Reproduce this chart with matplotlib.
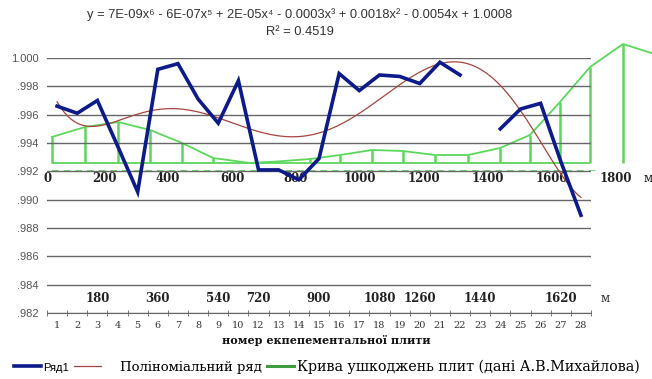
import numpy as np
import matplotlib
matplotlib.use("Agg")
import matplotlib.pyplot as plt
import matplotlib.transforms as mtransforms
from matplotlib.lines import Line2D
from matplotlib.ticker import FixedLocator, FuncFormatter

# --- data ------------------------------------------------------------------
# plate numbers as printed under the axis (the label "11" is absent in the original)
plate_labels = ["1", "2", "3", "4", "5", "6", "7", "8", "9", "10", "12", "13", "14",
                "15", "16", "17", "18", "19", "20", "21", "22", "23", "24", "25",
                "26", "27", "28"]
row1 = [0.9966, 0.9961, 0.9970, 0.9938, 0.99055, 0.9992, 0.9996, 0.9971, 0.9954,
        0.9984, 0.9921, 0.9921, 0.9914, 0.9929, 0.9989, 0.9977, 0.9988, 0.9987,
        0.9982, 0.9997, 0.9988, np.nan, 0.9950, 0.9964, 0.9968, 0.9927, 0.9889]

# distance labels of the lower row (metres) and the plate slot they stand over
lower_m_labels = ["180", "360", "540", "720", "900", "1080", "1260", "1440", "1620"]
lower_m_slots = [2, 5, 8, 10, 13, 16, 18, 21, 25]

# damage curve (A.V. Mykhailov), pasted chart: distance in m, relative damage
damage_m = [37, 141, 244, 344, 444, 541, 656, 741, 844, 938, 1038, 1134, 1234,
            1338, 1438, 1531, 1625, 1719, 1822, 1910]
damage_val = [3.4, 4.4, 4.9, 4.1, 2.8, 1.3, 0.8, 0.95, 1.2, 1.6, 2.1, 2.0, 1.6,
              1.6, 2.3, 3.6, 6.9, 10.4, 12.7, 11.8]
upper_m_ticks = [0, 200, 400, 600, 800, 1000, 1200, 1400, 1600, 1800]

equation = "y = 7E-09x⁶ - 6E-07x⁵ + 2E-05x⁴ - 0.0003x³ + 0.0018x² - 0.0054x + 1.0008"
r2_text = "R² = 0.4519"

BLUE = "#0c1a8a"
RED = "#a6453d"
GREEN = "#5bd85b"
GREEN_DARK = "#3d9d3d"
GRID = "#666666"
SERIF = "DejaVu Serif"
SANS = ["Liberation Sans", "DejaVu Sans"]

W, H = 652, 379
fig = plt.figure(figsize=(W / 100, H / 100), dpi=100)
fig.patch.set_facecolor("white")


def fx(px):
    return px / W


def fy(py):
    return 1 - py / H


# --- pasted damage-curve chart (drawn underneath) ---------------------------
ov = fig.add_axes([fx(40), fy(171), fx(613), 131 / H], zorder=0)
ov.set_xlim(0, 613 / 0.32)
ov.set_ylim(0, 13.1)
ov.patch.set_alpha(0)
for s in ov.spines.values():
    s.set_visible(False)
ov.set_yticks([])

base = 0.8
ov.plot(damage_m, damage_val, color=GREEN, lw=1.3, clip_on=False)
ov.vlines(damage_m[:-1], base, damage_val[:-1], color=GREEN, lw=1.8)
ov.hlines(base, damage_m[0], 1720, color=GREEN, lw=1.3)
ov.hlines(0.05, damage_m[0], 1750, color=GREEN, lw=1.2, linestyles=(0, (4, 3)))

ov.set_xticks(upper_m_ticks + [1900])
ov.set_xticklabels([str(t) for t in upper_m_ticks] + ["м"])
ov.tick_params(axis="x", length=0, pad=0.5, labelsize=8.5)
for lab in ov.get_xticklabels():
    lab.set_family(SERIF)
    lab.set_fontweight("bold")
    lab.set_color("#222222")
ov.get_xticklabels()[-1].set_fontweight("normal")
# the "0" of the pasted chart sits a little right of its tick
zero_lab = ov.get_xticklabels()[0]
zero_lab.set_transform(zero_lab.get_transform()
                       + mtransforms.ScaledTranslation(8 / 100, 0, fig.dpi_scale_trans))

# --- main chart --------------------------------------------------------------
ax = fig.add_axes([fx(47), fy(313), fx(544), 255 / H], zorder=1)
ax.patch.set_alpha(0)
pos = np.arange(len(row1))
ax.set_xlim(-0.5, len(row1) - 0.5)
ax.set_ylim(0.982, 1.000)

ax.yaxis.set_major_locator(FixedLocator(np.arange(0.982, 1.0001, 0.002)))
ax.yaxis.set_major_formatter(
    FuncFormatter(lambda v, _: f"{v:.3f}" if v >= 0.9995 else f"{v:.3f}"[1:]))
ax.grid(axis="y", color=GRID, lw=1.0)
ax.set_axisbelow(True)
ax.tick_params(axis="y", length=0, pad=6, labelsize=8, labelcolor="#555555")
for lab in ax.get_yticklabels():
    lab.set_family(SANS)

for side in ["left", "right", "top"]:
    ax.spines[side].set_visible(False)
ax.spines["bottom"].set_color(GRID)

ax.set_xticks(pos)
ax.set_xticklabels(plate_labels, family=SERIF, fontsize=7, color="#333333")
ax.set_xticks(np.arange(-0.5, len(row1), 1.0), minor=True)
ax.tick_params(axis="x", which="major", length=0, pad=6)
ax.tick_params(axis="x", which="minor", length=4, direction="inout", color=GRID)
ax.set_xlabel("номер екпепементальної плити", family=SERIF, fontweight="bold",
              fontsize=8, color="#111111")
ax.xaxis.set_label_coords((326 - 47) / 544, -0.088)

# polynomial trendline (6th order) of Ряд1
xs = pos + 1.0
ys = np.array(row1)
ok = ~np.isnan(ys)
coef = np.polyfit(xs[ok], ys[ok], 6)
xf = np.linspace(1, len(row1), 300)
ax.plot(xf - 1, np.polyval(coef, xf), color=RED, lw=0.9, zorder=3)

ax.plot(pos, row1, color=BLUE, lw=2.6, solid_joinstyle="miter", zorder=4)

# lower distance row
trans = ax.get_xaxis_transform()
for lab, slot in zip(lower_m_labels, lower_m_slots):
    ax.text(slot, 0.055, lab, transform=trans, ha="center", va="center",
            family=SERIF, fontweight="bold", fontsize=8.5, color="#222222")
ax.text(27.2, 0.055, "м", transform=trans, ha="center", va="center",
        family=SERIF, fontsize=8.5, color="#333333", clip_on=False)

# trendline equation
fig.text(fx(300), fy(15), equation, ha="center", va="center", family=SANS,
         fontsize=9.3, color="#333333")
fig.text(fx(300), fy(32), r2_text, ha="center", va="center", family=SANS,
         fontsize=9.3, color="#333333")

# legend
handles = [Line2D([], [], color=BLUE, lw=2.6),
           Line2D([], [], color=RED, lw=0.9),
           Line2D([], [], color=GREEN_DARK, lw=2.2)]
labels = ["Ряд1", "    Поліноміальний ряд", "Крива ушкоджень плит (дані А.В.Михайлова)"]
leg = fig.legend(handles, labels, loc="center left", bbox_to_anchor=(fx(14), fy(367)),
                 ncol=3, frameon=False, borderpad=0, borderaxespad=0,
                 handlelength=1.9, handletextpad=0.15, columnspacing=0.35,
                 prop={"family": SERIF, "size": 10.3})
texts = leg.get_texts()
texts[0].set_family(SANS)
texts[0].set_fontsize(8)
texts[1].set_fontsize(9.5)

fig.savefig("out.png", dpi=100)
